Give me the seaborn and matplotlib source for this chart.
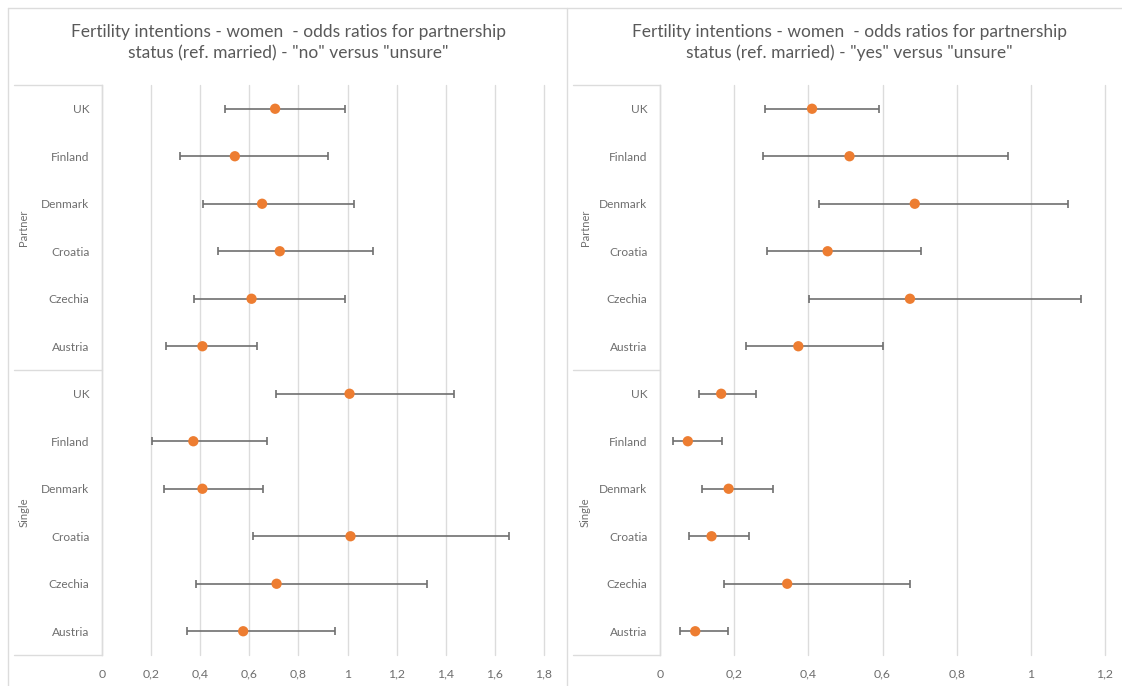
import numpy as np
import pandas as pd
import matplotlib
matplotlib.use("Agg")
import matplotlib.pyplot as plt
from matplotlib.lines import Line2D
import seaborn as sns

# Countries shown within each partnership group (top to bottom)
countries = ["UK", "Finland", "Denmark", "Croatia", "Czechia", "Austria"]
groups = ["Partner", "Single"]

# Odds ratios and confidence bounds: "no" versus "unsure"
no_partner_or = [0.705, 0.541, 0.652, 0.724, 0.609, 0.409]
no_partner_lo = [0.502, 0.317, 0.413, 0.474, 0.374, 0.262]
no_partner_hi = [0.990, 0.922, 1.027, 1.103, 0.989, 0.633]
no_single_or = [1.008, 0.372, 0.409, 1.012, 0.711, 0.575]
no_single_lo = [0.708, 0.205, 0.253, 0.615, 0.384, 0.348]
no_single_hi = [1.433, 0.672, 0.655, 1.658, 1.325, 0.947]

# Odds ratios and confidence bounds: "yes" versus "unsure"
yes_partner_or = [0.410, 0.511, 0.687, 0.452, 0.674, 0.373]
yes_partner_lo = [0.282, 0.277, 0.429, 0.288, 0.401, 0.231]
yes_partner_hi = [0.591, 0.939, 1.099, 0.705, 1.134, 0.602]
yes_single_or = [0.165, 0.075, 0.185, 0.139, 0.343, 0.095]
yes_single_lo = [0.105, 0.035, 0.112, 0.079, 0.173, 0.055]
yes_single_hi = [0.258, 0.168, 0.305, 0.239, 0.674, 0.184]

no_ticks = [0, 0.2, 0.4, 0.6, 0.8, 1.0, 1.2, 1.4, 1.6, 1.8]
yes_ticks = [0, 0.2, 0.4, 0.6, 0.8, 1.0, 1.2]

titles = [
    'Fertility intentions - women  - odds ratios for partnership\nstatus (ref. married) - "no" versus "unsure"',
    'Fertility intentions - women  - odds ratios for partnership\nstatus (ref. married) - "yes" versus "unsure"',
]


def build_frame(p_or, p_lo, p_hi, s_or, s_lo, s_hi):
    rows = []
    for g, (o, lo, hi) in zip(groups, [(p_or, p_lo, p_hi), (s_or, s_lo, s_hi)]):
        for c, a, b, d in zip(countries, o, lo, hi):
            rows.append({"group": g, "country": c, "odds": a, "lo": b, "hi": d})
    df = pd.DataFrame(rows)
    df["row"] = np.arange(len(df))
    return df


frames = [
    build_frame(no_partner_or, no_partner_lo, no_partner_hi,
                no_single_or, no_single_lo, no_single_hi),
    build_frame(yes_partner_or, yes_partner_lo, yes_partner_hi,
                yes_single_or, yes_single_lo, yes_single_hi),
]

sns.set_theme(style="white")
plt.rcParams["font.family"] = ["Lato", "DejaVu Sans"]

W, H = 1122, 686
fig = plt.figure(figsize=(W / 100, H / 100), dpi=100)
fig.patch.set_facecolor("white")

TEXT = "#595959"
LABEL = "#6E6E6E"
GRID = "#DCDCDC"
ORANGE = "#ED7D31"
ERR = "#6F6F6F"


def fx(px):
    return px / W


def fy(py):
    return 1 - py / H


def fline(x0, y0, x1, y1):
    fig.add_artist(Line2D([fx(x0), fx(x1)], [fy(y0), fy(y1)],
                          transform=fig.transFigure, color=GRID, lw=1.0))


# chart-area borders
fline(8, 8, W, 8)
fline(8, 8, 8, H)
fline(567, 8, 567, H)

panels = [
    dict(ax_l=102, ax_r=544, box_l=14, grp_x=24, title_x=288, ticks=no_ticks),
    dict(ax_l=660, ax_r=1105, box_l=573, grp_x=585, title_x=849, ticks=yes_ticks),
]
top, bottom = 85, 655

for df, p, title in zip(frames, panels, titles):
    ax = fig.add_axes([fx(p["ax_l"]), fy(bottom), fx(p["ax_r"] - p["ax_l"]),
                       (bottom - top) / H])
    ax.errorbar(df["odds"], df["row"],
                xerr=[df["odds"] - df["lo"], df["hi"] - df["odds"]],
                fmt="none", ecolor=ERR, elinewidth=1.2, capsize=3,
                capthick=1.2, zorder=2)
    sns.scatterplot(data=df, x="odds", y="row", ax=ax, color=ORANGE, s=55,
                    edgecolor="none", linewidth=0, zorder=3, legend=False)

    ticks = p["ticks"]
    ax.set_xlim(0, ticks[-1])
    ax.set_xticks(ticks)
    ax.set_xticklabels([f"{t:g}".replace(".", ",") for t in ticks])
    ax.set_ylim(len(df) - 0.5, -0.5)
    ax.set_yticks(df["row"])
    ax.set_yticklabels(df["country"])
    ax.set_xlabel("")
    ax.set_ylabel("")
    ax.grid(axis="x", color=GRID, lw=1.0)
    ax.grid(axis="y", visible=False)
    for gl in ax.get_xgridlines():
        gl.set_clip_on(False)
    ax.set_axisbelow(True)
    for s in ["top", "right", "bottom"]:
        ax.spines[s].set_visible(False)
    ax.spines["left"].set_color(GRID)
    ax.spines["left"].set_linewidth(1.0)
    ax.tick_params(axis="x", length=0, pad=10, labelsize=8.8, labelcolor=LABEL)
    ax.tick_params(axis="y", length=0, pad=9, labelsize=8.6, labelcolor=LABEL)

    # multi-level category box
    for yy in (top, (top + bottom) / 2, bottom):
        fline(p["box_l"], yy, p["ax_l"], yy)
    mid = (top + bottom) / 2
    for g, (a, b) in zip(groups, [(top, mid), (mid, bottom)]):
        fig.text(fx(p["grp_x"]), fy((a + b) / 2), g, rotation=90,
                 ha="center", va="center", fontsize=8, color=LABEL)

    fig.text(fx(p["title_x"]), fy(42.5), title, ha="center", va="center",
             fontsize=12.5, color=TEXT, linespacing=1.4)

fig.savefig("out.png", dpi=100, facecolor="white")
